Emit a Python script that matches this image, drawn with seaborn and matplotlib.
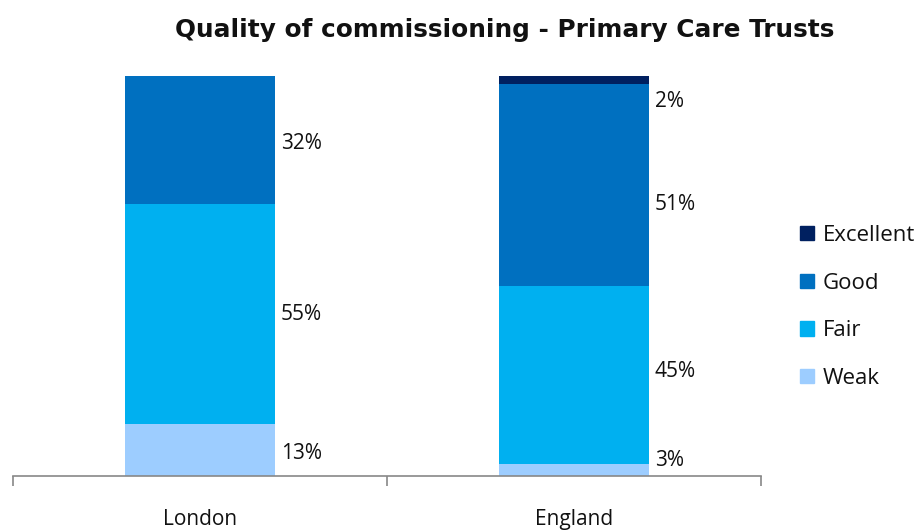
import numpy as np
import pandas as pd
import matplotlib
matplotlib.use("Agg")
import matplotlib.pyplot as plt
import matplotlib.patches as mpatches
import seaborn as sns

categories = ["London", "England"]
levels = ["Weak", "Fair", "Good", "Excellent"]
weak = [13, 3]
fair = [55, 45]
good = [32, 51]
excellent = [0, 2]
label_texts = [["13%", "55%", "32%", ""], ["3%", "45%", "51%", "2%"]]

colors = {"Excellent": "#002060", "Good": "#0070C0", "Fair": "#00B0F0", "Weak": "#9DCDFF"}
# label vertical nudges (in % units) relative to segment centre
label_nudge = [[-0.9, 0.0, -0.9, 0.0], [2.4, 1.0, -5.0, -5.3]]

sns.set_theme(style="white")
plt.rcParams["font.family"] = ["Open Sans", "DejaVu Sans"]

fig = plt.figure(figsize=(9.23, 5.3), dpi=100)
ax = fig.add_axes([13 / 923, 1 - 476 / 530, 748 / 923, 400 / 530])

vals = np.array([weak, fair, good, excellent], dtype=float)  # shape levels x cats
shares = vals / vals.sum(axis=0) * 100
cum = np.cumsum(shares, axis=0)

for i in reversed(range(len(levels))):
    df = pd.DataFrame({"cat": categories, "val": cum[i]})
    sns.barplot(data=df, x="cat", y="val", color=colors[levels[i]], width=0.4,
                saturation=1, ax=ax, order=categories, linewidth=0)

# labels
for j, cat in enumerate(categories):
    for i in range(len(levels)):
        if not label_texts[j][i]:
            continue
        bottom = cum[i][j] - shares[i][j]
        yc = bottom + shares[i][j] / 2 + label_nudge[j][i]
        ax.text(j + 0.2 + 0.016, yc, label_texts[j][i], ha="left", va="center",
                fontsize=15, color="#111111")

ax.set_xlim(-0.5, 1.5)
ax.set_ylim(0, 100)
ax.set_xlabel("")
ax.set_ylabel("")
ax.set_yticks([])
for s in ["top", "right", "left"]:
    ax.spines[s].set_visible(False)
ax.spines["bottom"].set_color("#888888")
ax.spines["bottom"].set_linewidth(1.2)
ax.set_xticks([0, 1])
ax.set_xticklabels(categories, fontsize=15, color="#111111")
ax.tick_params(axis="x", which="major", length=0, pad=24)
ax.set_xticks([-0.5, 0.5, 1.5], minor=True)
ax.tick_params(axis="x", which="minor", length=7, width=1.2, color="#888888", direction="out", bottom=True)

fig.text(505 / 923, 1 - 30 / 530, "Quality of commissioning - Primary Care Trusts",
         ha="center", va="center", fontsize=17.8, fontweight="bold", color="#111111",
         family=["DejaVu Sans"])

handles = [mpatches.Patch(color=colors[l], label=l) for l in ["Excellent", "Good", "Fair", "Weak"]]
fig.legend(handles=handles, loc="upper left", bbox_to_anchor=(800 / 923, 1 - 225 / 530),
           frameon=False, fontsize=16, handlelength=0.63, handleheight=0.63,
           labelspacing=1.2, handletextpad=0.4, borderaxespad=0, borderpad=0,
           labelcolor="#111111")

fig.savefig("out.png", dpi=100)
